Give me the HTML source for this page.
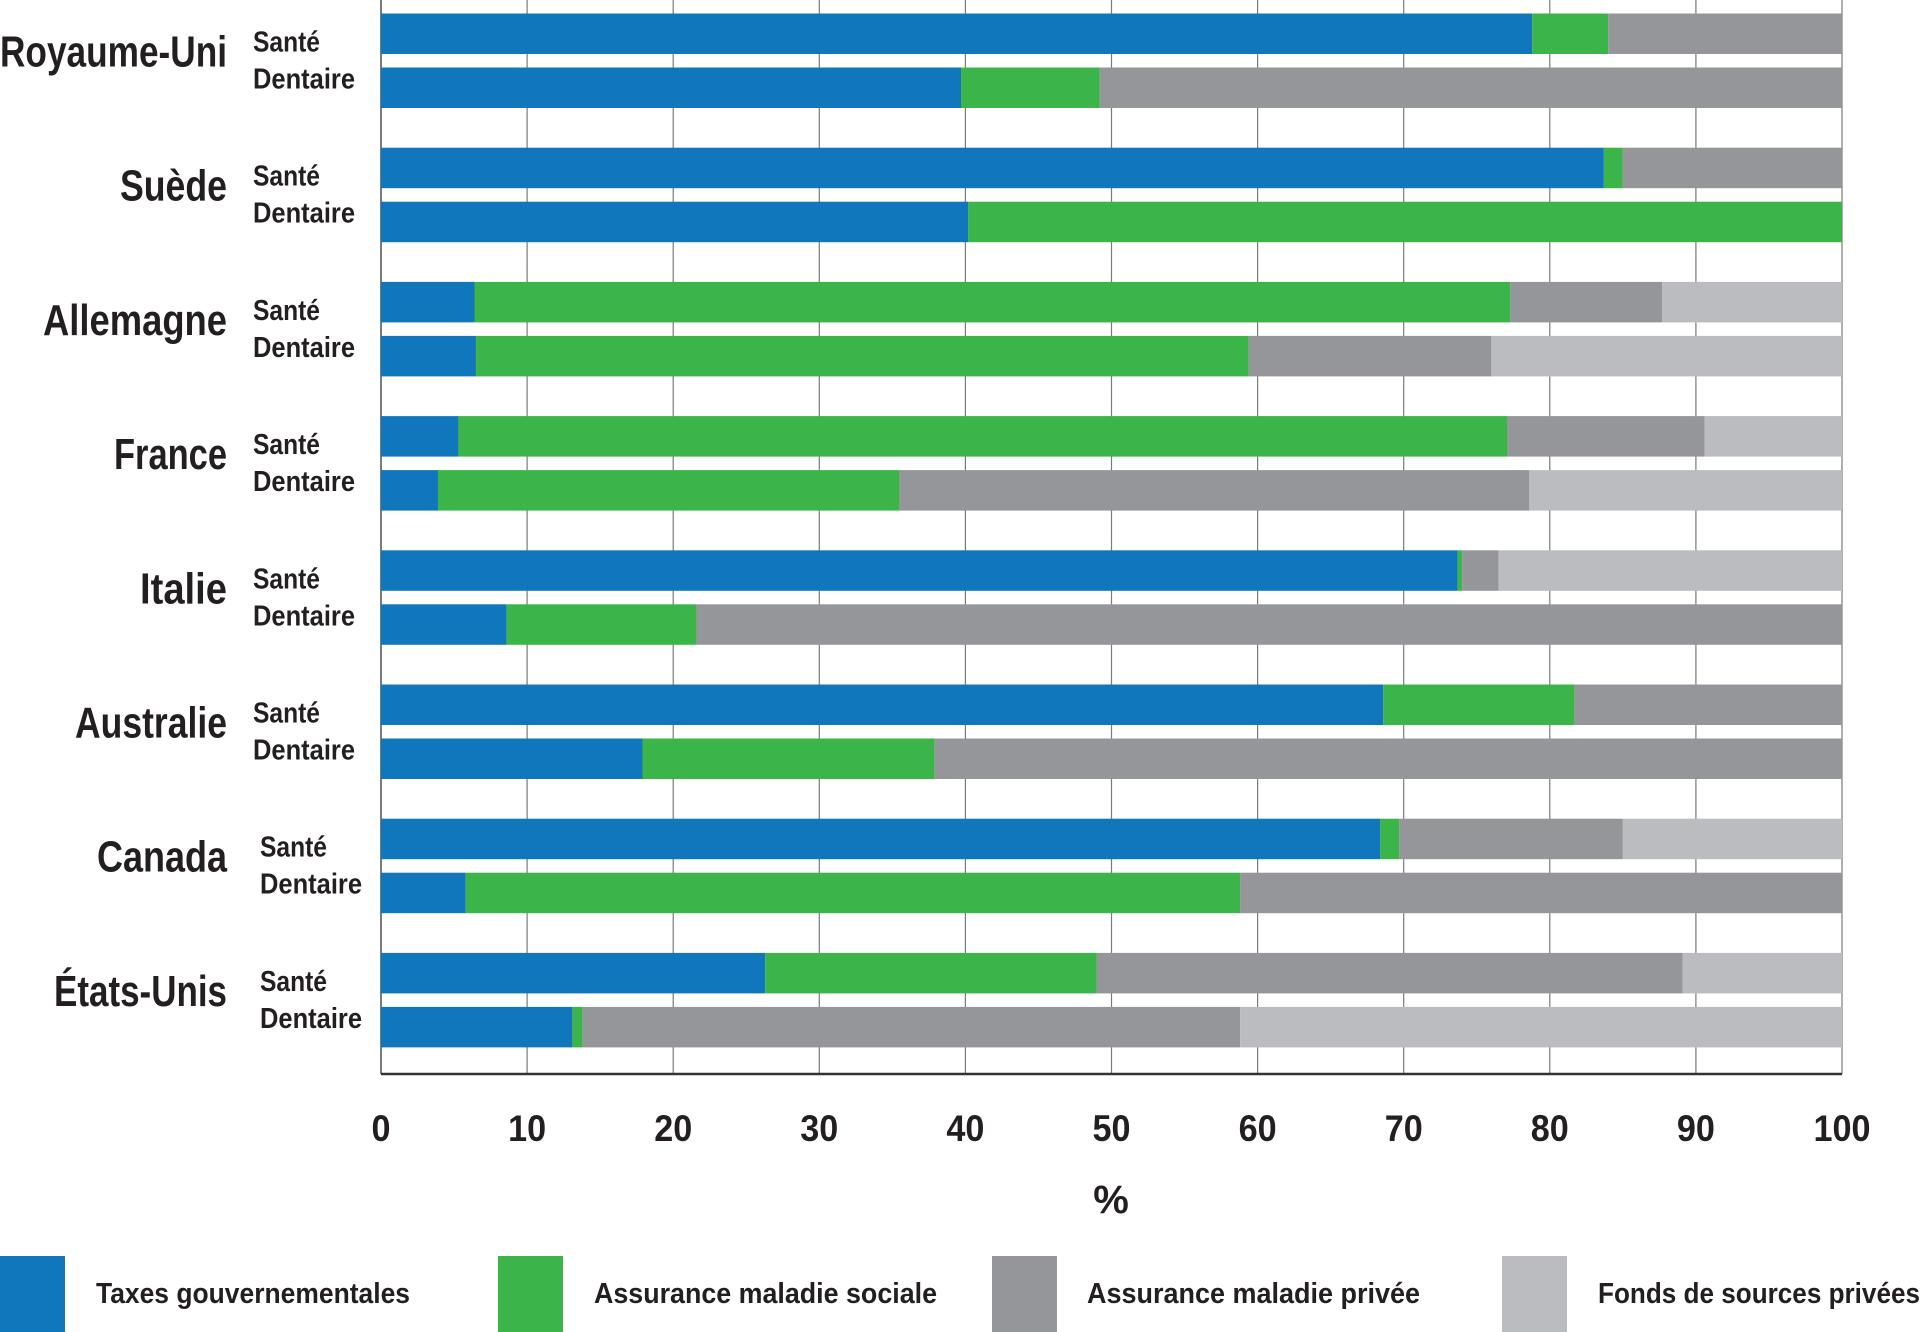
<!DOCTYPE html>
<html><head><meta charset="utf-8"><style>
html,body{margin:0;padding:0;background:#fff;}
svg{display:block;}
text{font-family:"Liberation Sans",sans-serif;font-weight:bold;fill:#231f20;}
</style></head><body>
<svg id="chart" width="1920" height="1332" viewBox="0 0 1920 1332" xmlns="http://www.w3.org/2000/svg"></svg>
<script>
const countries = ["Royaume-Uni","Suède","Allemagne","France","Italie","Australie","Canada","États-Unis"];
const rowLabels = ["Santé","Dentaire"];
const seriesNames = ["Taxes gouvernementales","Assurance maladie sociale","Assurance maladie privée","Fonds de sources privées"];
const seriesColors = ["#1077bd","#3bb54a","#959699","#bbbcbf"];
// values per country: [santé row, dentaire row], each [taxes, sociale, privée, fonds]
const taxes =   [[78.8,39.7],[83.7,40.2],[6.4,6.5],[5.3,3.9],[73.7,8.6],[68.6,17.9],[68.4,5.8],[26.3,13.1]];
const sociale = [[5.2,9.5],[1.3,59.8],[70.9,52.9],[71.8,31.6],[0.3,13.0],[13.1,20.0],[1.3,53.0],[22.7,0.7]];
const privee =  [[16.0,50.8],[15.0,0],[10.4,16.6],[13.5,43.1],[2.5,78.4],[18.3,62.1],[15.3,41.2],[40.1,45.0]];
const fonds =   [[0,0],[0,0],[12.3,24.0],[9.4,21.4],[23.5,0],[0,0],[15.0,0],[10.9,41.2]];
const ticks = [0,10,20,30,40,50,60,70,80,90,100];

const NS="http://www.w3.org/2000/svg";
const svg=document.getElementById('chart');
const X0=381,X1=1842,AXB=1074;
const xs=v=>X0+(X1-X0)*v/100;
const groupTop=i=>13.5+i*134.2;
const BH=40.5;
function el(tag,attrs,parent){const e=document.createElementNS(NS,tag);for(const k in attrs)e.setAttribute(k,attrs[k]);(parent||svg).appendChild(e);return e;}

ticks.forEach(t=>{
  const g=el('line',{x1:xs(t),x2:xs(t),y1:0,y2:AXB,stroke:'#7a7a7a','stroke-width':t===0?2:1.2});
  
  
});
const series=[taxes,sociale,privee,fonds];
const cw=[227,107,184,113,87,152,130,173];
countries.forEach((c,i)=>{
  const top=groupTop(i);
  for(let r=0;r<2;r++){
    let acc=0;
    const y=top+r*54;
    series.forEach((s,k)=>{
      const v=s[i][r];
      if(v>0){
        const b=el('rect',{x:xs(acc),y:y,width:xs(acc+v)-xs(acc),height:BH,fill:seriesColors[k]});
        
        
      }
      acc+=v;
    });
  }
  const cl=el('text',{x:227,y:top+53,'text-anchor':'end','font-size':44,textLength:cw[i],lengthAdjust:'spacingAndGlyphs'});
  cl.textContent=c;
  
  
  const lx=(i>=6)?260:253;
  const s1=el('text',{x:lx,y:top+38,'font-size':29,textLength:67,lengthAdjust:'spacingAndGlyphs'});
  s1.textContent=rowLabels[0];
  
  
  const s2=el('text',{x:lx,y:top+75,'font-size':29,textLength:102,lengthAdjust:'spacingAndGlyphs'});
  s2.textContent=rowLabels[1];
  
  
});

const ax=el('line',{x1:X0,x2:X1,y1:AXB,y2:AXB,stroke:'#333','stroke-width':2.5});


ticks.forEach(t=>{
  const tl=el('text',{x:xs(t),y:1141,'text-anchor':'middle','font-size':37,textLength:(String(t).length*19),lengthAdjust:'spacingAndGlyphs'});
  tl.textContent=String(t);
  
  
});
const at=el('text',{x:1111,y:1213,'text-anchor':'middle','font-size':40});
at.textContent='%';



const lgx=[0,498,992,1502];
const ltx=[96,594,1087,1598];
const ltw=[314,343,333,322];
seriesNames.forEach((n,k)=>{
  const sw=el('rect',{x:lgx[k],y:1256,width:65,height:76,fill:seriesColors[k]});
  
  
  const lt=el('text',{x:ltx[k],y:1303,'font-size':29,textLength:ltw[k],lengthAdjust:'spacingAndGlyphs'});
  lt.textContent=n;
  
  
});
</script>
</body></html>
